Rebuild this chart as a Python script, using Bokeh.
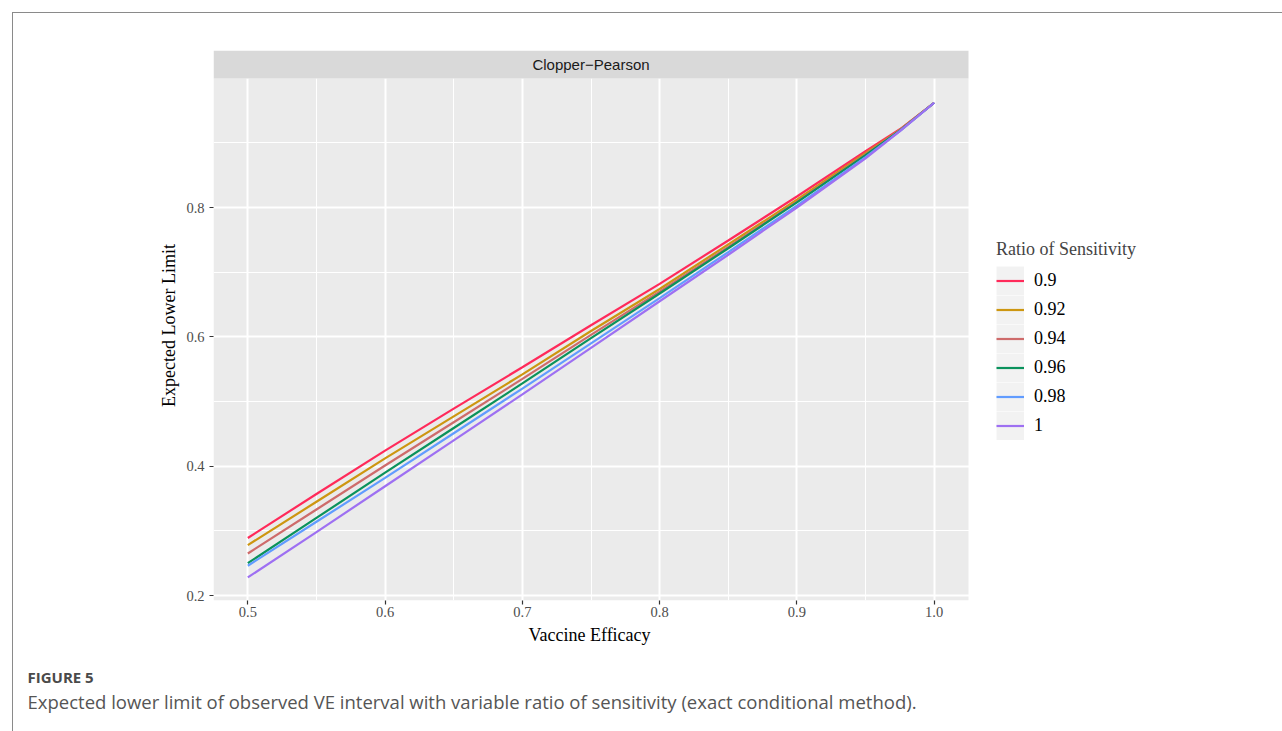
from bokeh.plotting import figure
from bokeh.models import Range1d, FixedTicker, Legend, LegendItem, BoxAnnotation, Label, Title
from bokeh.embed import file_html
from bokeh.resources import INLINE

# ---- data ----
ve = [0.50, 0.55, 0.60, 0.65, 0.70, 0.75, 0.80, 0.85, 0.90, 0.95, 0.975, 1.00]
r090 = [0.289, 0.357, 0.424, 0.489, 0.553, 0.618, 0.682, 0.749, 0.817, 0.887, 0.921, 0.962]
r092 = [0.278, 0.345, 0.412, 0.477, 0.542, 0.609, 0.674, 0.743, 0.812, 0.884, 0.920, 0.962]
r094 = [0.265, 0.333, 0.401, 0.468, 0.535, 0.603, 0.670, 0.739, 0.809, 0.882, 0.920, 0.962]
r096 = [0.250, 0.320, 0.390, 0.459, 0.528, 0.598, 0.667, 0.737, 0.808, 0.881, 0.919, 0.962]
r098 = [0.246, 0.314, 0.382, 0.451, 0.520, 0.590, 0.660, 0.731, 0.803, 0.878, 0.918, 0.962]
r100 = [0.228, 0.298, 0.369, 0.440, 0.511, 0.583, 0.655, 0.727, 0.800, 0.876, 0.918, 0.962]

series_labels = ["0.9", "0.92", "0.94", "0.96", "0.98", "1"]
series_values = [r090, r092, r094, r096, r098, r100]
series_colors = ["#FF2A5A", "#CD9610", "#CE6B6B", "#0A925C", "#619CFF", "#9E70F2"]

x_ticks = [0.5, 0.6, 0.7, 0.8, 0.9, 1.0]
x_tick_labels = ["0.5", "0.6", "0.7", "0.8", "0.9", "1.0"]
x_minor = [0.55, 0.65, 0.75, 0.85, 0.95]
y_ticks = [0.2, 0.4, 0.6, 0.8]
y_tick_labels = ["0.2", "0.4", "0.6", "0.8"]
y_minor = [0.3, 0.5, 0.7, 0.9]

panel_title = "Clopper\u2212Pearson"
x_title = "Vaccine Efficacy"
y_title = "Expected Lower Limit"
legend_title = "Ratio of Sensitivity"
fig_label = "FIGURE 5"
caption = ("Expected lower limit of observed VE interval with variable ratio of "
           "sensitivity (exact conditional method).")

# ---- layout ----
W, H = 1282, 731
FL, FT, FB = 213, 50, 600               # frame (panel + strip + legend area)
PANEL_R = 968                            # panel right edge, px
X_LO, X_HI = 0.475, 1.025                # panel x extent (data)
PANEL_TOP = 0.9995                       # panel top edge (data)
Y_MIN, Y_MAX = 0.1923, 1.0428
FW, FH = W - FL, FB - FT
x_end = X_LO + (X_HI - X_LO) * FW / (PANEL_R - FL)

p = figure(width=W, height=H,
           x_range=Range1d(X_LO, x_end), y_range=Range1d(Y_MIN, Y_MAX),
           output_backend="svg", toolbar_location=None,
           min_border_left=FL, min_border_right=0,
           min_border_top=FT, min_border_bottom=H - FB)
p.title.visible = False
p.background_fill_color = "white"
p.border_fill_alpha = 0
p.outline_line_color = None
border_col = "#8a8a8a"
p.styles = {
    "background": (f"linear-gradient({border_col},{border_col}) 12px 12px / 100% 1px no-repeat, "
                   f"linear-gradient({border_col},{border_col}) 12px 12px / 1px 100% no-repeat, #ffffff")
}

serif = "Liberation Serif"

# panel background (below the grid)
p.add_layout(BoxAnnotation(left=X_LO, right=X_HI, top=PANEL_TOP, level="image",
                           fill_color="#EBEBEB", fill_alpha=1, line_color=None))

# grid
p.xgrid.ticker = FixedTicker(ticks=x_ticks, minor_ticks=x_minor)
p.ygrid.ticker = FixedTicker(ticks=y_ticks, minor_ticks=y_minor)
for g in (p.xgrid, p.ygrid):
    g.grid_line_color = "white"
    g.grid_line_width = 2
    g.minor_grid_line_color = "white"
    g.minor_grid_line_width = 1

# axes
p.xaxis.ticker = FixedTicker(ticks=x_ticks)
p.yaxis.ticker = FixedTicker(ticks=y_ticks)
p.xaxis.major_label_overrides = dict(zip(x_ticks, x_tick_labels))
p.yaxis.major_label_overrides = dict(zip(y_ticks, y_tick_labels))
p.yaxis.axis_label = y_title
for ax in (p.xaxis[0], p.yaxis[0]):
    ax.axis_line_color = None
    ax.major_tick_line_color = "#333333"
    ax.major_tick_line_width = 1.2
    ax.major_tick_in = 0
    ax.major_tick_out = 4
    ax.minor_tick_line_color = None
    ax.major_label_text_font = serif
    ax.major_label_text_font_size = "14.5px"
    ax.major_label_text_color = "#4D4D4D"
    ax.axis_label_text_font = serif
    ax.axis_label_text_font_size = "18px"
    ax.axis_label_text_font_style = "normal"
    ax.axis_label_text_color = "black"
p.xaxis.major_label_standoff = 2
p.yaxis.major_label_standoff = 5
p.yaxis.axis_label_standoff = 4

# x-axis title, centred under the panel (not under the wider frame)
p.add_layout(Title(text=x_title, align="left", offset=528 - FL, standoff=6,
                   text_font=serif, text_font_size="18px", text_font_style="normal",
                   text_color="black"), "below")

# lines
renderers = []
for lab, vals, col in zip(series_labels, series_values, series_colors):
    r = p.line(ve, vals, line_color=col, line_width=2.2)
    renderers.append(r)

# facet strip
p.add_layout(BoxAnnotation(bottom=PANEL_TOP, left=X_LO, right=X_HI,
                           fill_color="#D9D9D9", fill_alpha=1, line_color=None))
p.add_layout(Label(x=(X_LO + X_HI) / 2, y=FH - 14, x_units="data", y_units="screen",
                   text=panel_title, text_align="center", text_baseline="middle",
                   text_font="Liberation Sans", text_font_size="15px",
                   text_color="#1A1A1A"))

# legend (key background through a wide line renderer that draws nothing in the plot)
nan = float("nan")
key_bg = p.line(x=[nan, nan], y=[nan, nan], line_color="#F2F2F2", line_width=29)
legend = Legend(items=[LegendItem(label=l, renderers=[key_bg, r])
                       for l, r in zip(series_labels, renderers)],
                location=(996 - FL, FB - 440))
legend.title = legend_title
legend.title_text_font = serif
legend.title_text_font_size = "18px"
legend.title_text_font_style = "normal"
legend.title_standoff = 6
legend.label_text_font = serif
legend.label_text_font_size = "18px"
legend.label_text_color = "black"
legend.glyph_width = 28
legend.glyph_height = 29
legend.label_height = 29
legend.label_standoff = 10
legend.spacing = 0
legend.padding = 0
legend.margin = 0
legend.border_line_color = None
legend.background_fill_alpha = 0
p.add_layout(legend)

# caption (titles below the x axis)
p.add_layout(Title(text=" ", text_font_size="13px", standoff=0), "below")
p.add_layout(Title(text=fig_label, align="left", offset=27 - FL, standoff=0,
                   text_font="Open Sans", text_font_size="15px",
                   text_font_style="bold", text_color="#4A4A4A"), "below")
p.add_layout(Title(text=caption, align="left", offset=27 - FL, standoff=0,
                   text_font="Open Sans", text_font_size="18.5px",
                   text_font_style="normal", text_color="#555555"), "below")

open("out.html", "w").write(file_html(p, INLINE))
